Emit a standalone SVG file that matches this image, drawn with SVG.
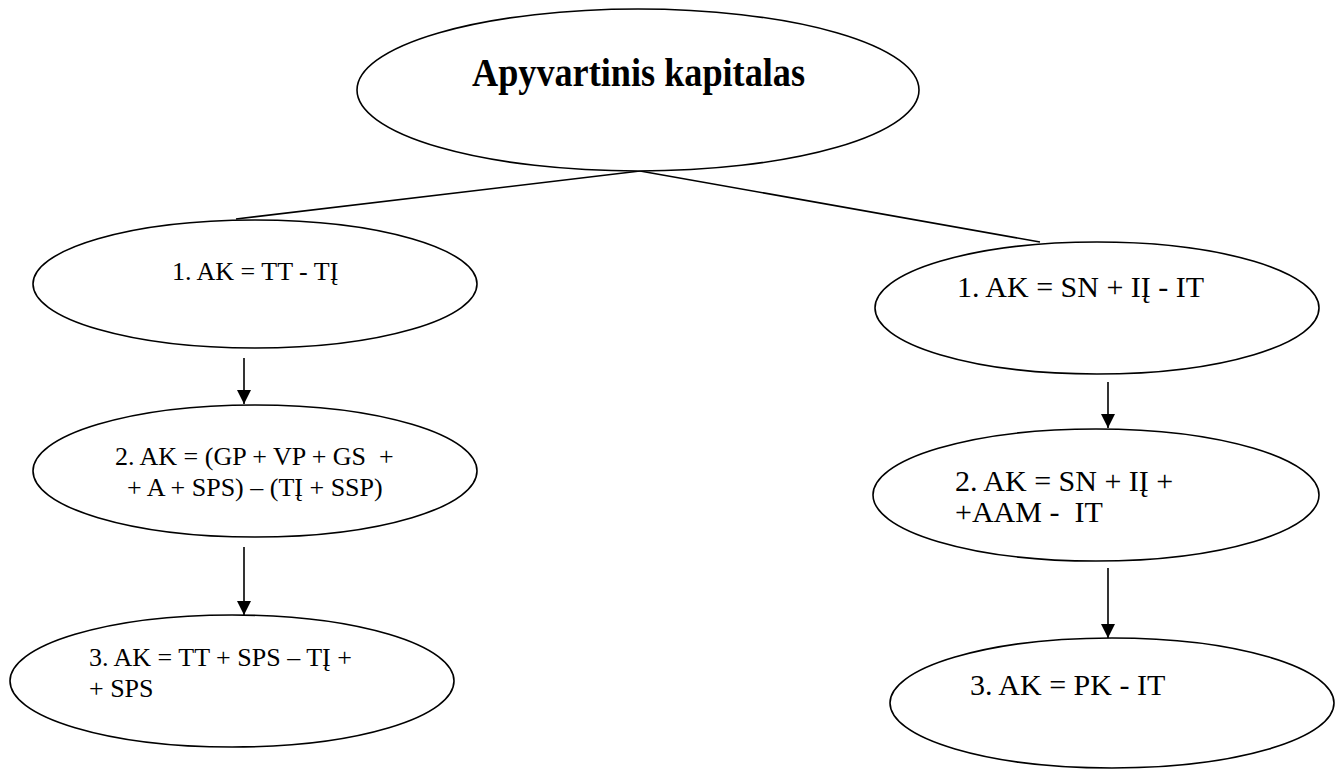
<svg xmlns="http://www.w3.org/2000/svg" width="1343" height="771" viewBox="0 0 1343 771">
<style>
  .node { fill: #ffffff; stroke: #000000; stroke-width: 1.6; }
  .lbl { font-family: 'Liberation Serif', 'Times New Roman', Times, 'DejaVu Serif', serif; fill: #000000; white-space: pre; }
  .l { font-size: 26px; }
  .r { font-size: 30px; }
  .title { font-size: 40px; font-weight: bold; }
  .conn { stroke: #000000; stroke-width: 1.6; fill: none; }
</style>
<defs>
  <marker id="arr" viewBox="0 0 10 10" refX="10" refY="5" markerUnits="userSpaceOnUse" markerWidth="14" markerHeight="15" orient="auto">
    <path d="M0,0 L10,5 L0,10 z" fill="#000000"/>
  </marker>
</defs>
<rect width="1343" height="771" fill="#ffffff"/>
<g id="connectors">
  <line class="conn" x1="640" y1="171" x2="236" y2="219"/>
  <line class="conn" x1="640" y1="171" x2="1040" y2="242"/>
  <line class="conn" x1="244" y1="358" x2="244" y2="404" marker-end="url(#arr)"/>
  <line class="conn" x1="244" y1="547" x2="244" y2="615" marker-end="url(#arr)"/>
  <line class="conn" x1="1108" y1="382" x2="1108" y2="428" marker-end="url(#arr)"/>
  <line class="conn" x1="1108" y1="568" x2="1108" y2="638" marker-end="url(#arr)"/>
</g>
<g id="root">
  <ellipse class="node" cx="638" cy="90" rx="281" ry="81"/>
  <text class="lbl title" font-family="Liberation Serif, serif" x="472" y="86" textLength="333" lengthAdjust="spacingAndGlyphs">Apyvartinis kapitalas</text>
</g>
<g id="left1">
  <ellipse class="node" cx="255" cy="284" rx="222" ry="64"/>
  <text class="lbl l" font-family="Liberation Serif, serif" x="172" y="280">1. AK = TT - TĮ</text>
</g>
<g id="left2">
  <ellipse class="node" cx="255" cy="471" rx="222" ry="66"/>
  <text class="lbl l" font-family="Liberation Serif, serif" x="115" y="465">2. AK = (GP + VP + GS  +</text>
  <text class="lbl l" font-family="Liberation Serif, serif" x="127" y="496">+ A + SPS) – (TĮ + SSP)</text>
</g>
<g id="left3">
  <ellipse class="node" cx="232" cy="681" rx="222" ry="66"/>
  <text class="lbl l" font-family="Liberation Serif, serif" x="89" y="666">3. AK = TT + SPS – TĮ +</text>
  <text class="lbl l" font-family="Liberation Serif, serif" x="89" y="697">+ SPS</text>
</g>
<g id="right1">
  <ellipse class="node" cx="1097" cy="308" rx="222" ry="66"/>
  <text class="lbl r" font-family="Liberation Serif, serif" x="957" y="297">1. AK = SN + IĮ - IT</text>
</g>
<g id="right2">
  <ellipse class="node" cx="1096" cy="495" rx="223" ry="66"/>
  <text class="lbl r" font-family="Liberation Serif, serif" x="955" y="491">2. AK = SN + IĮ +</text>
  <text class="lbl r" font-family="Liberation Serif, serif" x="955" y="522">+AAM -  IT</text>
</g>
<g id="right3">
  <ellipse class="node" cx="1112" cy="703" rx="222" ry="65"/>
  <text class="lbl r" font-family="Liberation Serif, serif" x="970" y="695">3. AK = PK - IT</text>
</g>
</svg>
